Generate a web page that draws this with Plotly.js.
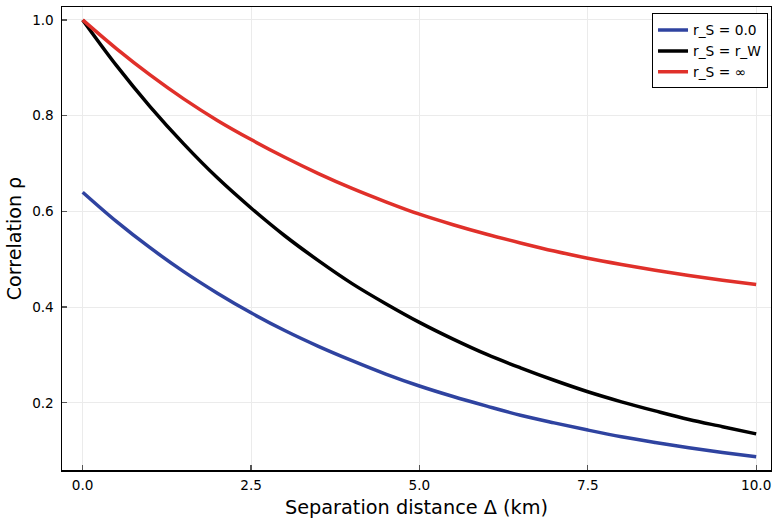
<!DOCTYPE html>
<html>
<head>
<meta charset="utf-8">
<script src="https://cdn.plot.ly/plotly-3.0.1.min.js"></script>
<style>html,body{margin:0;padding:0;background:#fff;}#chart{width:772px;height:519px;}</style>
</head>
<body>
<div id="chart"></div>
<script>
const distance = [0,0.5,1,1.5,2,2.5,3,3.5,4,4.5,5,5.5,6,6.5,7,7.5,8,8.5,9,9.5,10];
const rhoZero = [0.640,0.579,0.524,0.474,0.429,0.388,0.351,0.318,0.288,0.260,0.235,0.213,0.193,0.174,0.158,0.143,0.129,0.117,0.106,0.096,0.087];
const rhoW = [1.000,0.905,0.819,0.741,0.670,0.607,0.549,0.497,0.449,0.407,0.368,0.333,0.301,0.273,0.247,0.223,0.202,0.183,0.165,0.150,0.135];
const rhoInf = [1.000,0.940,0.885,0.835,0.790,0.750,0.713,0.679,0.648,0.620,0.594,0.572,0.552,0.534,0.517,0.502,0.489,0.477,0.466,0.456,0.447];
const seriesNames = ["r_S = 0.0","r_S = r_W","r_S = ∞"];
const xTicks = [0,2.5,5,7.5,10];
const yTicks = [0.2,0.4,0.6,0.8,1.0];

const FONT = "DejaVu Sans, sans-serif";
const colors = ["#2f43a0","#000000","#e0302a"];
const ys = [rhoZero, rhoW, rhoInf];
const traces = ys.map((y,i)=>({
  x: distance, y: y, type: "scatter", mode: "lines", name: seriesNames[i],
  line: {color: colors[i], width: 3.5, shape: "spline", smoothing: 1}
}));

const axisCommon = {
  showline: true, linecolor: "#000", linewidth: 1.5, mirror: true,
  showgrid: true, gridcolor: "#ebebeb", gridwidth: 1, zeroline: false,
  ticks: "inside", ticklen: 5, tickwidth: 1.2, tickcolor: "#555",
  tickfont: {family: FONT, size: 13.6, color: "#000"}
};

const layout = {
  width: 772, height: 519,
  margin: {l: 62, r: 1, t: 6.5, b: 49},
  paper_bgcolor: "#fff", plot_bgcolor: "#fff",
  font: {family: FONT, color: "#000"},
  showlegend: true,
  legend: {
    x: 0.9958, xanchor: "right", y: 0.986, yanchor: "top",
    bgcolor: "#fff", bordercolor: "#000", borderwidth: 1,
    tracegroupgap: 0,
    font: {family: FONT, size: 13.8, color: "#000"}
  },
  xaxis: Object.assign({}, axisCommon, {
    range: [-0.307, 10.22], tickvals: xTicks, tickformat: ".1f",
    ticklabelstandoff: 2,
    title: {text: "Separation distance Δ (km)", font: {family: FONT, size: 19.3, color: "#000"}, standoff: 8}
  }),
  yaxis: Object.assign({}, axisCommon, {
    range: [0.0595, 1.027], tickvals: yTicks, tickformat: ".1f",
    ticklabelstandoff: 4,
    title: {text: "Correlation ρ", font: {family: FONT, size: 19.1, color: "#000"}, standoff: 5}
  })
};

Plotly.newPlot("chart", traces, layout, {displayModeBar: false, staticPlot: true});
</script>
</body>
</html>
